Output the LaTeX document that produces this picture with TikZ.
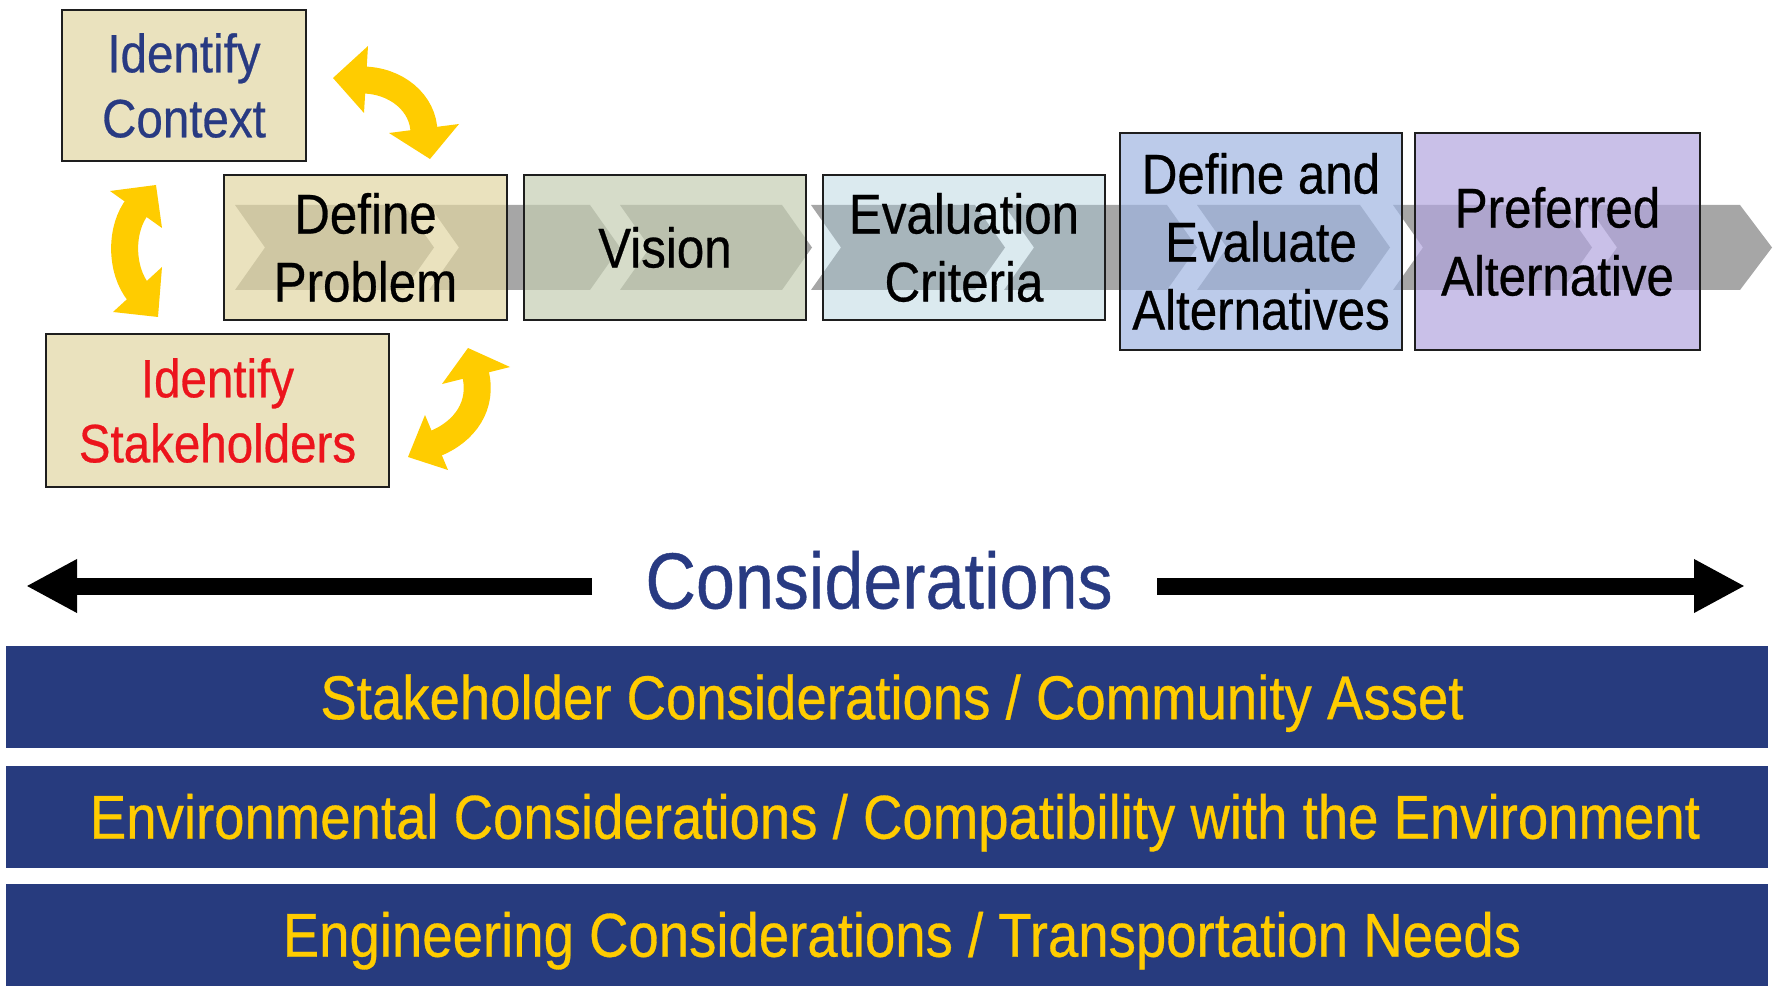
\documentclass[tikz,border=0pt]{standalone}
\usepackage{fontspec}
\setmainfont{Liberation Sans}[FakeStretch=0.88, FakeBold=0.5]
\usetikzlibrary{arrows.meta}

\definecolor{band}{HTML}{A6A6A6}
\definecolor{boxline}{HTML}{1E1E1E}
\definecolor{beige}{HTML}{EAE2BE}
\definecolor{beigeT}{RGB}{225,214,162}
\definecolor{sageT}{RGB}{196,205,178}
\definecolor{iceT}{RGB}{170,204,218}
\definecolor{blueT}{RGB}{159,181,225}
\definecolor{lilacT}{RGB}{178,165,222}
\definecolor{ttlnavy}{RGB}{40,58,130}
\definecolor{barnavy}{RGB}{39,59,126}
\definecolor{amber}{HTML}{FFCC00}
\definecolor{redtxt}{RGB}{236,20,28}

\tikzset{
  pbox/.style={draw=boxline, line width=1.2pt, fill opacity=0.7, text opacity=1,
    inner sep=0pt, align=center, minimum width=141pt,
    font=\fontsize{28}{34}\selectfont},
  sidebox/.style={draw=boxline, line width=1.2pt, fill=beige, inner sep=0pt,
    align=center, font=\fontsize{27}{32.5}\selectfont},
  ybody/.style={draw=amber, line width=13.5pt},
  yhead/.style={fill=amber},
  bigarrow/.style={line width=8.5pt, -{Triangle[width=25pt,length=25.5pt]}},
  bar/.style={fill=barnavy, minimum width=881pt, minimum height=51pt, inner sep=0pt,
    text=amber, font=\fontsize{31}{31}\selectfont, text height=22.2pt, text depth=0pt},
}

\begin{document}
\begin{tikzpicture}[x=0.5pt,y=-0.5pt]
\useasboundingbox (0,0) rectangle (1775,989);

% process band made of chevrons
\foreach \s/\e in {235/404,429/590,620/782,811/975,1004/1167,1197/1360,1393/1562}
  \fill[band] (\s,205) -- (\e,205) -- (\e+30,247.5) -- (\e,290) -- (\s,290) -- (\s+30,247.5) -- cycle;
\fill[band] (1587,205) -- (1740,205) -- (1772,247.5) -- (1740,290) -- (1587,290) -- (1617,247.5) -- cycle;

% process steps
\node[pbox, fill=beigeT, minimum width=141.5pt, minimum height=72.5pt] (prob) at (365.5,247.5) {Define\\Problem};
\node[pbox, fill=sageT, minimum height=72.5pt] (vis) at (665,247.5) {Vision};
\node[pbox, fill=iceT, fill opacity=0.42, minimum height=72.5pt] (eval) at (964,247.5) {Evaluation\\Criteria};
\node[pbox, fill=blueT, minimum height=108.5pt] (alts) at (1261,241.5) {Define and\\Evaluate\\Alternatives};
\node[pbox, fill=lilacT, minimum width=142.5pt, minimum height=108.5pt] (pref) at (1557.5,241.5) {Preferred\\Alternative};

% side steps
\node[sidebox, text=ttlnavy, minimum width=122pt, minimum height=75.5pt] (ctx) at (184,85.5) {Identify\\Context};
\node[sidebox, text=redtxt, minimum width=171.5pt, minimum height=76.5pt] (stake) at (217.5,410.5) {Identify\\Stakeholders};

% curved two-way arrows
\fill[yhead] (333,78) -- (368,46) -- (364,113) -- cycle;
\fill[yhead] (430,159) -- (389,133) -- (459,124) -- cycle;
\draw[ybody] (362,80) .. controls (396,80) and (424,103) .. (424,133);

\fill[yhead] (156,185) -- (110,191) -- (162,228) -- cycle;
\fill[yhead] (158,317) -- (113,312) -- (162,267) -- cycle;
\draw[ybody] (138,206) .. controls (120,228) and (120,270) .. (139,293);

\fill[yhead] (468,348) -- (442,384) -- (510,367) -- cycle;
\fill[yhead] (408,457) -- (425,415) -- (448,470) -- cycle;
\draw[ybody] (475,372) .. controls (484,405) and (465,432) .. (434,444);

% considerations heading
\node[font=\fontsize{39.8}{40}\selectfont, text=ttlnavy, inner sep=0pt,
  text height=28.5pt, text depth=0pt] (cons) at (879,580) {Considerations};
\coordinate (lend) at (592,586);
\coordinate (ltip) at (26,586);
\coordinate (rstart) at (1157,586);
\coordinate (rtip) at (1745,586);
\draw[bigarrow] (lend) -- (ltip);
\draw[bigarrow] (rstart) -- (rtip);

% consideration bars
\node[bar] (b1) at (887,697) {\hspace*{5pt}Stakeholder Considerations / Community Asset};
\node[bar] (b2) at (887,816.5) {\hspace*{8pt}Environmental Considerations / Compatibility with the Environment};
\node[bar] (b3) at (887,934.5) {\hspace*{15pt}Engineering Considerations / Transportation Needs};
\end{tikzpicture}
\end{document}
